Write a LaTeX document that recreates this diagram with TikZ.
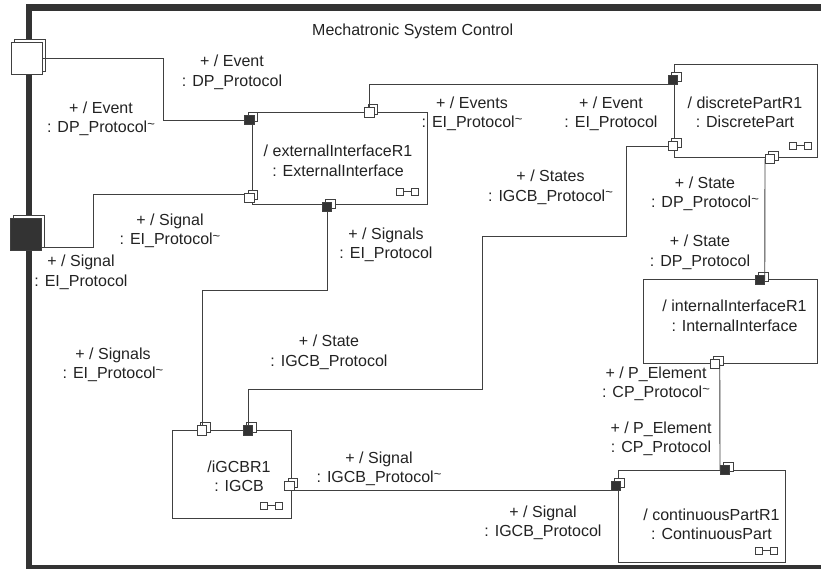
\documentclass[tikz,border=0pt]{standalone}
\usepackage{fontspec}
\setmainfont{Liberation Sans}
\usetikzlibrary{shadows}
\definecolor{ln}{HTML}{404040}
\definecolor{fr}{HTML}{333333}
\definecolor{tx}{HTML}{222222}
\newcommand{\tld}{\raisebox{0.28em}{\fontsize{13}{13}\selectfont\textasciitilde}}
\begin{document}
\begin{tikzpicture}[x=1pt,y=-1pt,
  every node/.style={font=\fontsize{16}{19.5}\selectfont, text=tx},
  box/.style={draw=ln, line width=0.9pt, fill=white, inner sep=0pt, outer sep=0pt},
  prt/.style={draw=ln, line width=0.8pt, minimum size=9.5pt, inner sep=0pt, outer sep=0pt,
    general shadow={shadow xshift=3.5pt, shadow yshift=3pt, fill=white, draw=ln, line width=0.8pt}},
  pw/.style={prt, fill=white},
  pf/.style={prt, fill=fr},
  fport/.style={draw=ln, line width=0.8pt, minimum width=31pt, minimum height=32pt, inner sep=0pt, outer sep=0pt,
    general shadow={shadow xshift=3pt, shadow yshift=2.5pt, fill=white, draw=ln, line width=0.8pt}},
  con/.style={draw=ln, line width=0.9pt},
  lbl/.style={anchor=base, align=center, inner sep=0pt, yshift=-19.5pt},
  frm/.style={draw=fr, line width=6.5pt, line join=miter},
  icon/.pic={\draw[ln, line width=0.7pt] (-21.5,-7) rectangle (-14.5,0) (-7,-7) rectangle (0,0) (-14.5,-3.5) -- (-7,-3.5);}
]
\useasboundingbox (0,0) rectangle (821,569);

% frame
\draw[frm] (830,7.5) -- (29,7.5) -- (29,568.5) -- (830,568.5);
\node[anchor=base west, inner sep=0pt] (title) at (312,36) {Mechatronic System Control};

% boxes
\node[box, minimum width=175pt, minimum height=92pt] (ext) at (339.5,158) {};
\node[box, minimum width=143pt, minimum height=93pt] (disc) at (745.5,110.5) {};
\node[box, minimum width=174pt, minimum height=84pt] (int) at (730,321) {};
\node[box, minimum width=119pt, minimum height=88pt] (igcb) at (231.5,474) {};
\node[box, minimum width=167pt, minimum height=92pt] (cont) at (701.5,516) {};

\pic at ([xshift=-9pt,yshift=9pt]ext.south east) {icon};
\pic at ([xshift=-6pt,yshift=8pt]disc.south east) {icon};
\pic at ([xshift=-9pt,yshift=9pt]igcb.south east) {icon};
\pic at ([xshift=-8pt,yshift=8pt]cont.south east) {icon};

% box texts
\node[lbl] (extT) at (338,157) {/ externalInterfaceR1\\: ExternalInterface};
\node[lbl] (discT) at (745,108.3) {/ discretePartR1\\: DiscretePart};
\node[lbl] (intT) at (734.5,311.7) {/ internalInterfaceR1\\: InternalInterface};
\node[lbl] (igcbT) at (239,472.3) {/iGCBR1\\: IGCB};
\node[lbl] (contT) at (711.5,520) {/ continuousPartR1\\: ContinuousPart};

% frame ports
\node[fport, fill=white] (fpU) at (26.5,58) {};
\node[fport, fill=fr] (fpL) at (26,234) {};

% ports
\node[pf] (p1) at (249.5,120) {};
\node[pw] (p2) at (369.5,112.5) {};
\node[pw] (p3) at (249.5,198) {};
\node[pf] (p4) at (327,207) {};
\node[pw] (p5) at (202,430.5) {};
\node[pf] (p6) at (248,430.5) {};
\node[pw] (g3) at (289.5,486) {};
\node[pf] (d1) at (673,80) {};
\node[pw] (d2) at (673,146) {};
\node[pw] (d3) at (769.75,159) {};
\node[pf] (i1) at (760,280) {};
\node[pw] (i2) at (715,364) {};
\node[pf] (c1) at (724.75,470) {};
\node[pf] (c2) at (616,486) {};

% helper coordinates
\coordinate (k1) at (163,120);
\coordinate (k2) at (93,194);
\coordinate (k4) at (202,290);
\coordinate (k5a) at (482,389);
\coordinate (k5b) at (626,236);

% connectors
\draw[con] (fpU.east) -| (k1) -- (p1.west);
\draw[con] ([yshift=3pt]fpL.south east) -| (k2) -- (k2 -| p3.west);
\draw[con] (p2.north) |- (d1.south west);
\draw[con] (p4.south) |- (k4) -- (p5.north);
\draw[con] (p6.north) |- (k5a) |- (k5b) |- (d2.west);
\draw[con] (d3.west) -- (i1.east);
\draw[con] (i2.east) -- (c1.west);
\draw[con] (g3.south east) -- (c2.south west);

% labels
\node[lbl] (l1) at (232,66.7) {+ / Event\\: DP\_Protocol};
\node[lbl] (l2) at (101,113.3) {+ / Event\\: DP\_Protocol\tld};
\node[lbl] (l3) at (472,108.3) {+ / Events\\: EI\_Protocol\tld};
\node[lbl] (l4) at (611,108.3) {+ / Event\\: EI\_Protocol};
\node[lbl] (l5) at (550.5,181.7) {+ / States\\: IGCB\_Protocol\tld};
\node[lbl] (l6) at (705,188.3) {+ / State\\: DP\_Protocol\tld};
\node[lbl] (l7) at (700,246.7) {+ / State\\: DP\_Protocol};
\node[lbl] (l8) at (170,225) {+ / Signal\\: EI\_Protocol\tld};
\node[lbl] (l9) at (81,266.7) {+ / Signal\\: EI\_Protocol};
\node[lbl] (l10) at (386,239.3) {+ / Signals\\: EI\_Protocol};
\node[lbl] (l11) at (113,359) {+ / Signals\\: EI\_Protocol\tld};
\node[lbl] (l12) at (329,346.7) {+ / State\\: IGCB\_Protocol};
\node[lbl] (l13) at (379,463.3) {+ / Signal\\: IGCB\_Protocol\tld};
\node[lbl] (l14) at (543,517.3) {+ / Signal\\: IGCB\_Protocol};
\node[lbl] (l15) at (656,378.3) {+ / P\_Element\\: CP\_Protocol\tld};
\node[lbl] (l16) at (661,433.3) {+ / P\_Element\\: CP\_Protocol};
\end{tikzpicture}
\end{document}
